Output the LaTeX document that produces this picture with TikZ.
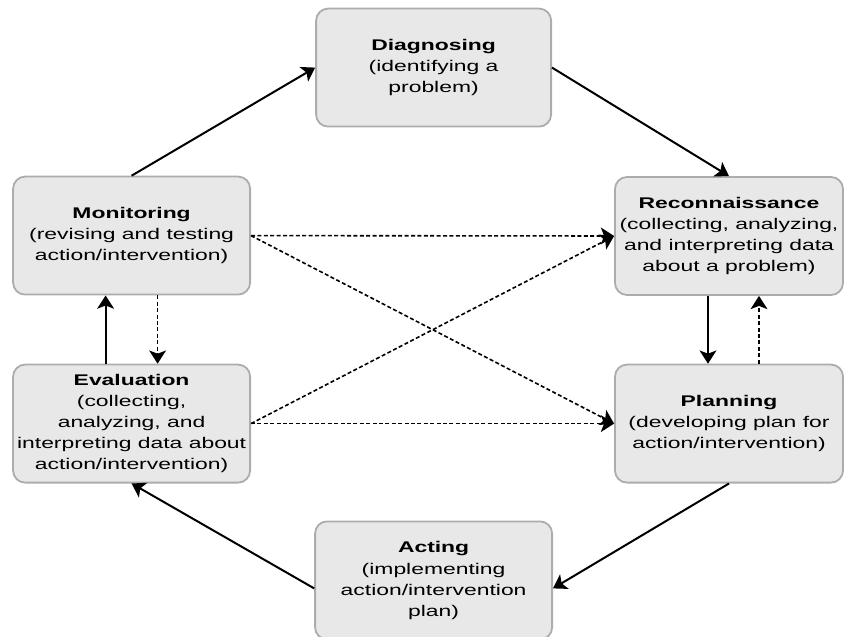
\documentclass[tikz,border=0pt]{standalone}
\usepackage{fontspec}
\setmainfont{Liberation Sans}
\usepackage{graphicx}
\usetikzlibrary{arrows.meta}

\newcommand{\stagetext}[2]{\scalebox{1.48}[1]{\begin{tabular}{@{}c@{}}\textbf{#1}\\#2\end{tabular}}}

\tikzset{
	stage/.style={draw=gray!65, fill=gray!18, line width=0.045cm, rounded corners=0.3cm, minimum height=2.95cm, inner sep=0pt, font=\fontsize{11pt}{15pt}\selectfont},
	flow/.style={-{Stealth[length=0.33cm, width=0.42cm, inset=0.08cm]}, black, line width=0.05cm},
	link/.style={-{Stealth[length=0.33cm, width=0.42cm, inset=0.08cm]}, black, line width=0.04cm, dash pattern=on 0.1cm off 0.06cm}
}

\begin{document}
\begin{tikzpicture}
\useasboundingbox (0,0) rectangle (21.1,15.9);

\node (diag) at (10.84,14.21) [stage, minimum width=5.875cm] {\stagetext{Diagnosing}{(identifying a\\problem)}};
\node (mon) at (3.29,10.01) [stage, minimum width=5.925cm] {\stagetext{Monitoring}{(revising and testing\\action/intervention)}};
\node (rec) at (18.225,10.0) [stage, minimum width=5.7cm] {\stagetext{Reconnaissance}{(collecting, analyzing,\\and interpreting data\\about a problem)}};
\node (eval) at (3.29,5.31) [stage, minimum width=5.925cm] {\stagetext{Evaluation}{(collecting,\\analyzing, and\\interpreting data about\\action/intervention)}};
\node (plan) at (18.225,5.31) [stage, minimum width=5.7cm] {\stagetext{Planning}{(developing plan for\\action/intervention)}};
\node (act) at (10.84,1.39) [stage, minimum width=5.925cm] {\stagetext{Acting}{(implementing\\action/intervention\\plan)}};

% outer cycle
\draw [flow] (mon.north) -- (diag.west);
\draw [flow] (diag.east) -- (rec.north);
\draw [flow] ([xshift=-0.525cm]rec.south) -- ([xshift=-0.525cm]plan.north);
\draw [flow] (plan.south) -- ([yshift=-0.2cm]act.east);
\draw [flow] ([yshift=-0.2cm]act.west) -- (eval.south);
\draw [flow] ([xshift=-0.65cm]eval.north) -- ([xshift=-0.65cm]mon.south);

% feedback
\draw [link] ([xshift=0.75cm]plan.north) -- ([xshift=0.75cm]rec.south);
\draw [link] ([xshift=0.65cm]mon.south) -- ([xshift=0.65cm]eval.north);
\draw [link] (mon.east) -- (rec.west);
\draw [link] (mon.east) -- (plan.west);
\draw [link] (eval.east) -- (rec.west);
\draw [link] (eval.east) -- (plan.west);

\end{tikzpicture}
\end{document}
